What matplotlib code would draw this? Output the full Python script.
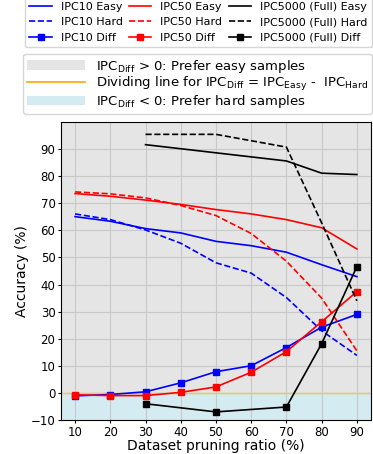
import matplotlib
matplotlib.use("Agg")
import matplotlib.pyplot as plt
from matplotlib.patches import Patch
from matplotlib.lines import Line2D

ratios = [10, 20, 30, 40, 50, 60, 70, 80, 90]
ipc10_easy = [65.0, 63.3, 60.6, 59.0, 55.9, 54.3, 51.9, 47.3, 42.9]
ipc10_hard = [66.0, 63.9, 60.1, 55.2, 48.0, 44.2, 35.2, 23.0, 13.9]
ipc10_diff = [-1.0, -0.5, 0.5, 3.8, 7.9, 10.1, 16.8, 24.3, 29.0]

ipc50_easy = [73.5, 72.5, 71.1, 69.5, 67.6, 66.0, 63.9, 60.9, 53.1]
ipc50_hard = [74.1, 73.4, 71.9, 69.1, 65.4, 58.8, 48.6, 35.0, 15.6]
ipc50_diff = [-0.6, -0.9, -0.9, 0.3, 2.3, 7.7, 15.3, 26.3, 37.4]

full_ratios = [30, 50, 70, 80, 90]
full_easy = [91.5, 88.5, 85.5, 81.0, 80.5]
full_hard = [95.3, 95.3, 90.6, 62.7, 34.0]
full_diff = [-3.9, -6.9, -5.1, 18.2, 46.6]

fig = plt.figure(figsize=(3.73, 4.54), dpi=100)
ax = fig.add_axes([0.1635, 0.0742, 0.831, 0.658])

ax.axhspan(0, 100, color='gray', alpha=0.2, lw=0, zorder=0)
ax.axhspan(-10, 0, color='lightblue', alpha=0.5, lw=0, zorder=0)
ax.axhline(0, color='orange', lw=1.0, alpha=0.8, zorder=1)

lw = 1.2
ms = 4.5
ax.plot(ratios, ipc10_easy, color='blue', lw=lw, label='IPC10 Easy')
ax.plot(ratios, ipc10_hard, color='blue', lw=lw, ls='--', label='IPC10 Hard')
ax.plot(ratios, ipc10_diff, color='blue', lw=lw, marker='s', ms=ms, label='IPC10 Diff')
ax.plot(ratios, ipc50_easy, color='red', lw=lw, label='IPC50 Easy')
ax.plot(ratios, ipc50_hard, color='red', lw=lw, ls='--', label='IPC50 Hard')
ax.plot(ratios, ipc50_diff, color='red', lw=lw, marker='s', ms=ms, label='IPC50 Diff')
ax.plot(full_ratios, full_easy, color='black', lw=lw, label='IPC5000 (Full) Easy')
ax.plot(full_ratios, full_hard, color='black', lw=lw, ls='--', label='IPC5000 (Full) Hard')
ax.plot(full_ratios, full_diff, color='black', lw=lw, marker='s', ms=ms, label='IPC5000 (Full) Diff')

ax.set_xlim(6, 94)
ax.set_ylim(-10, 100)
ax.set_xticks(ratios)
ax.set_yticks(range(-10, 100, 10))
ax.grid(True, color='#c8c8c8', lw=0.8)
ax.tick_params(labelsize=8.5, length=2.5, pad=1.5)
ax.set_xlabel('Dataset pruning ratio (%)', fontsize=10, labelpad=0)
ax.set_ylabel('Accuracy (%)', fontsize=10, labelpad=1)

handles, labels = ax.get_legend_handles_labels()
fig.legend(handles, labels, ncol=3, fontsize=8, loc='upper right',
           bbox_to_anchor=(0.997, 1.006), borderaxespad=0,
           labelspacing=0.5, columnspacing=0.6, handletextpad=0.8,
           fancybox=True)

h2 = [Patch(facecolor='gray', alpha=0.2, lw=0),
      Line2D([], [], color='orange', lw=1.2),
      Patch(facecolor='lightblue', alpha=0.5, lw=0)]
l2 = [r'IPC$_{\mathrm{Diff}}$ > 0: Prefer easy samples',
      r'Dividing line for IPC$_{\mathrm{Diff}}$ = IPC$_{\mathrm{Easy}}$ -  IPC$_{\mathrm{Hard}}$',
      r'IPC$_{\mathrm{Diff}}$ < 0: Prefer hard samples']
fig.legend(h2, l2, fontsize=9.5, loc='upper right', bbox_to_anchor=(0.997, 0.882),
           borderaxespad=0, handlelength=4.4, handletextpad=0.8,
           labelspacing=0.02, borderpad=0.3, fancybox=True)

fig.savefig('out.png', dpi=100)
